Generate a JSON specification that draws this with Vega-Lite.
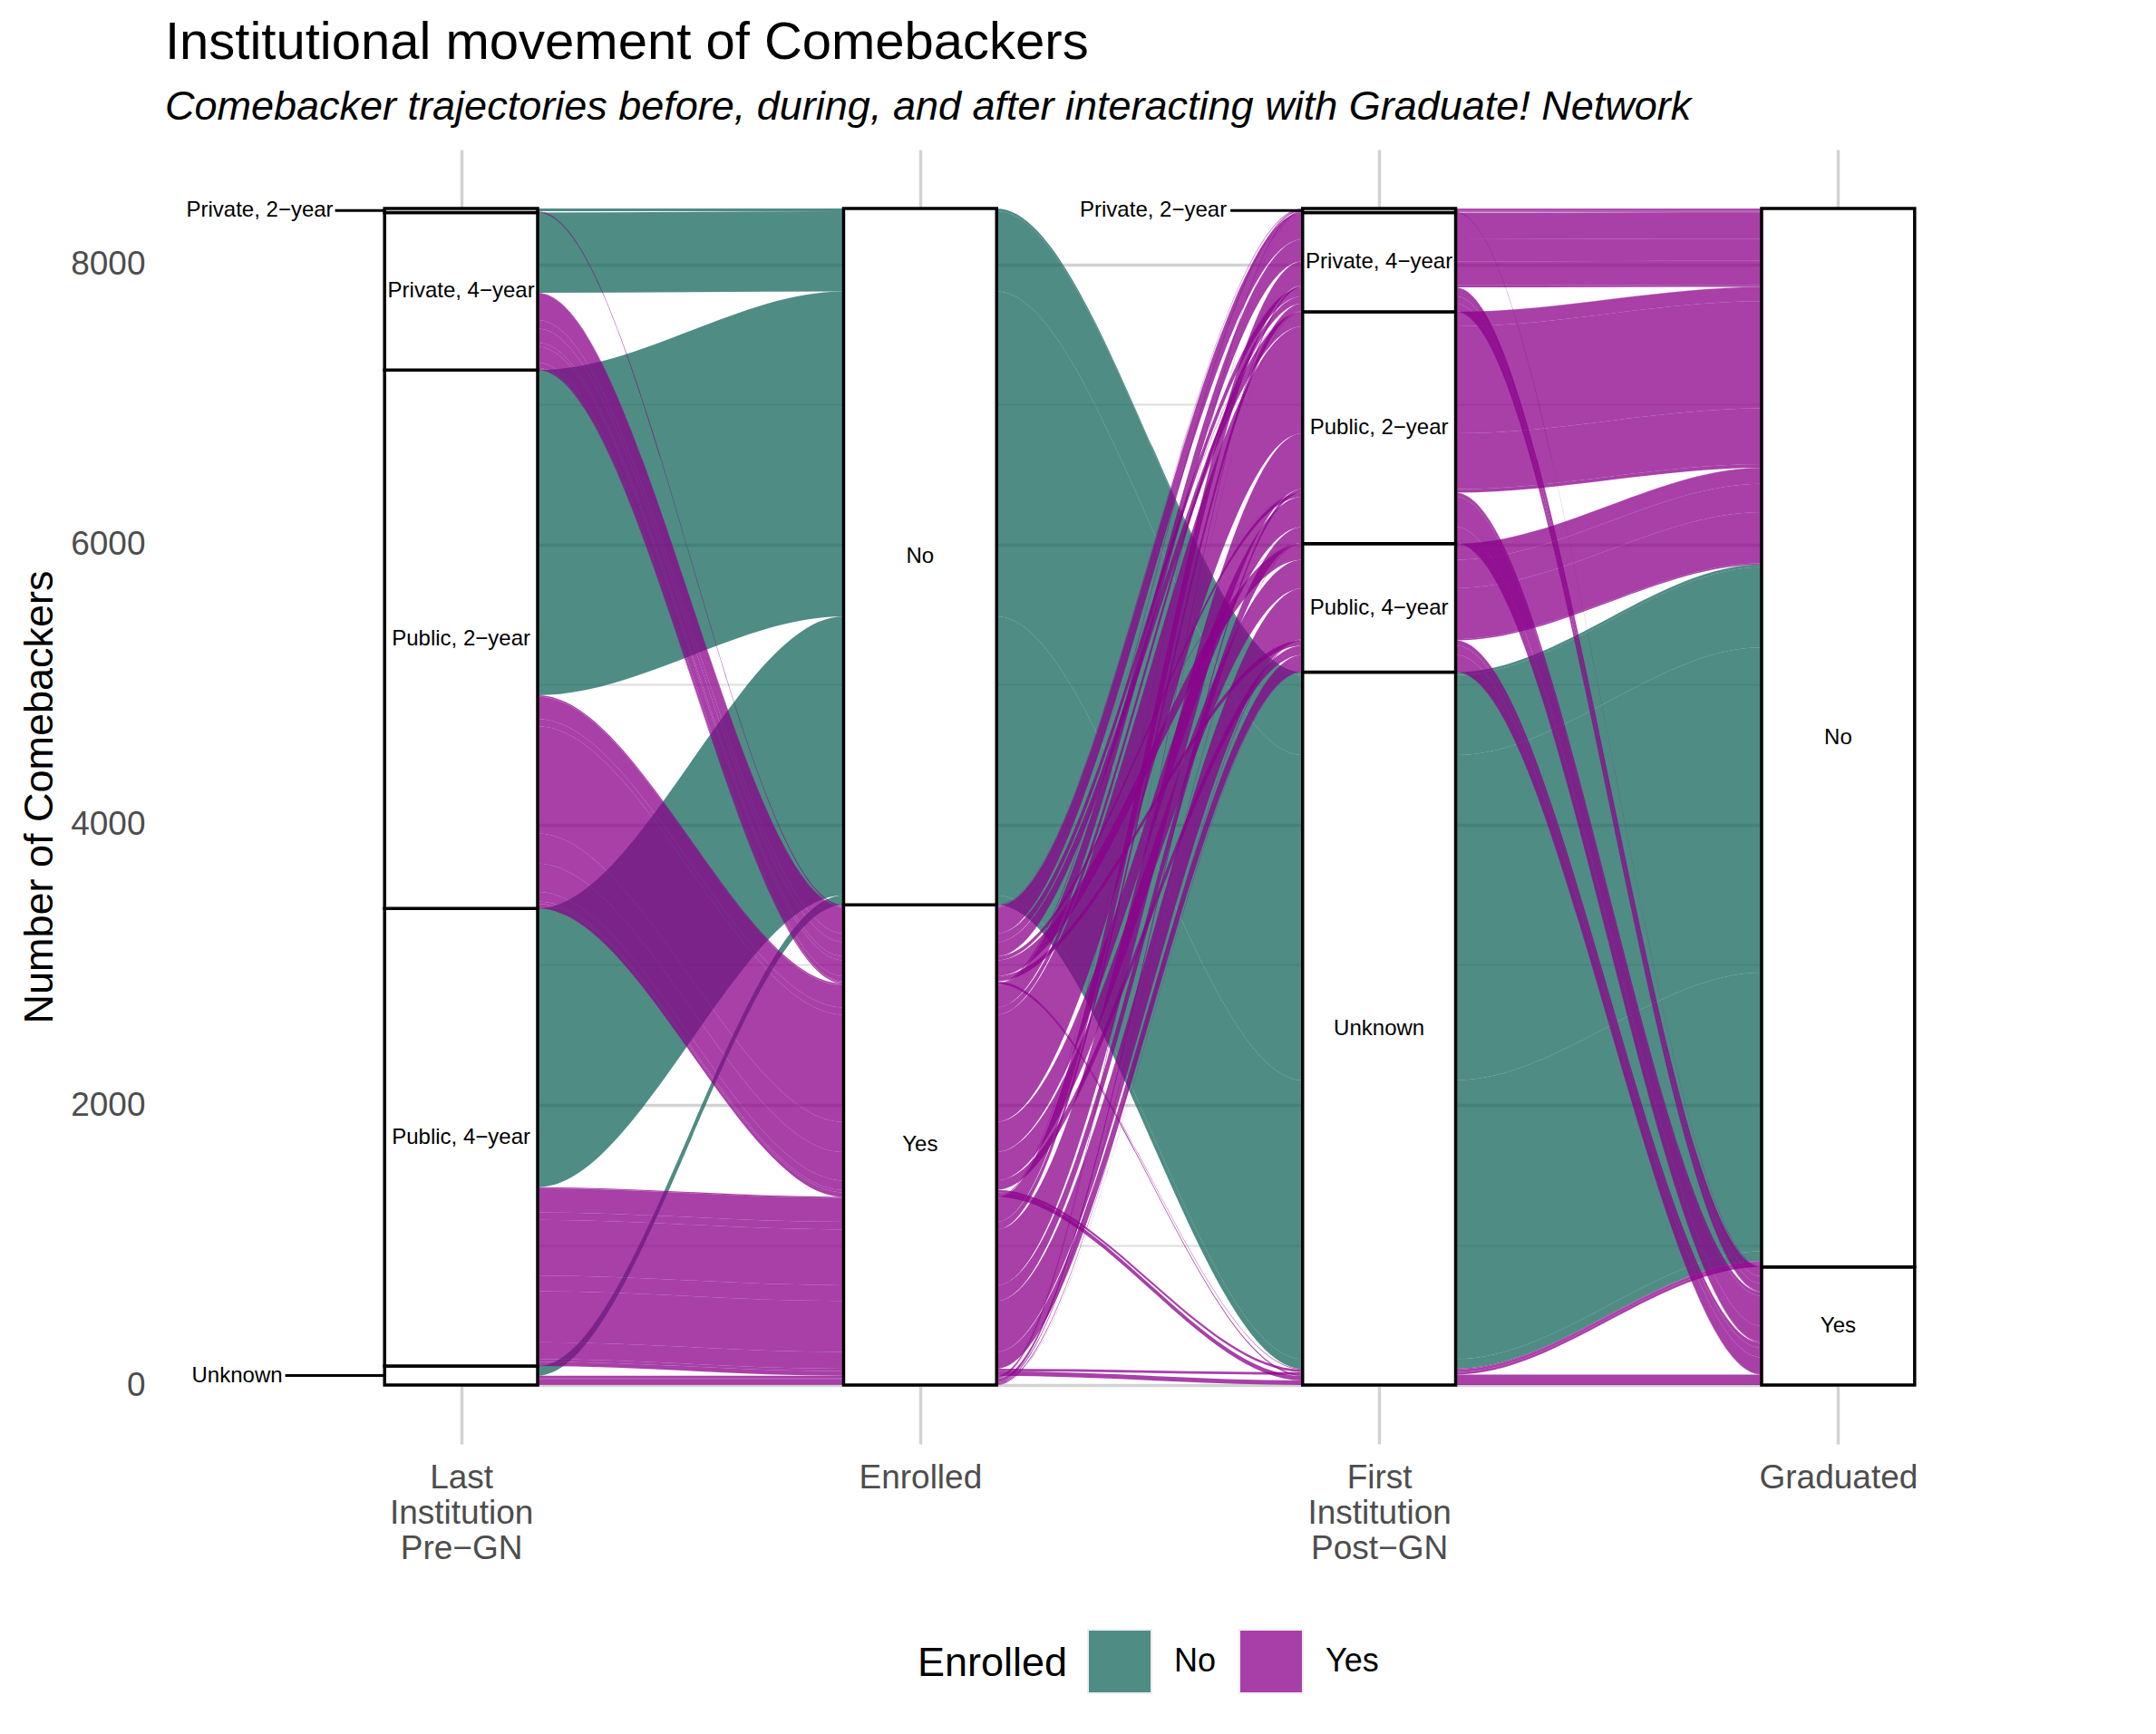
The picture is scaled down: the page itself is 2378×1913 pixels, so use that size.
{
  "$schema": "https://vega.github.io/schema/vega-lite/v6.json",
  "width": 2172,
  "height": 1428,
  "autosize": {"type": "none"},
  "padding": {"left": 182, "top": 165, "right": 24, "bottom": 320},
  "background": "white",
  "config": {
    "view": {"stroke": null},
    "font": "Liberation Sans",
    "axisY": {
      "format": "d",
      "labelExpr": "datum.value % 2000 === 0 ? datum.label : ''",
      "grid": true,
      "gridColor": {"condition": {"test": "datum.value % 2000 === 0", "value": "#d2d2d2"}, "value": "#dedede"},
      "gridWidth": {"condition": {"test": "datum.value % 2000 === 0", "value": 3.4}, "value": 1.8},
      "domain": false,
      "ticks": false,
      "labelFont": "Liberation Sans",
      "labelFontSize": 37,
      "labelColor": "#4d4d4d",
      "labelPadding": 22,
      "titleFont": "Liberation Sans",
      "titleFontSize": 45,
      "titleFontWeight": "normal",
      "titleColor": "black",
      "titleAngle": 270,
      "titleX": -125,
      "titleY": 714,
      "titleBaseline": "alphabetic",
      "titleAlign": "center"
    }
  },
  "title": {
    "text": "Institutional movement of Comebackers",
    "subtitle": "Comebacker trajectories before, during, and after interacting with Graduate! Network",
    "anchor": "start",
    "frame": "group",
    "font": "Liberation Sans",
    "fontSize": 58,
    "fontWeight": "normal",
    "color": "black",
    "subtitleFont": "Liberation Sans",
    "subtitleFontSize": 45,
    "subtitleFontStyle": "italic",
    "subtitleColor": "black",
    "subtitlePadding": 19.5,
    "offset": 24
  },
  "datasets": {
    "alluvia": [
      {"id": "g1", "Enrolled": "No", "cnt": 20, "a": 5212, "b": 5212, "f": 2512, "h": 2512, "l": 1225, "n": 1225, "r": 2125, "s": 2125},
      {"id": "g2", "Enrolled": "No", "cnt": 572, "a": 4212, "b": 4212, "f": 2412, "h": 2412, "l": 1224, "n": 1224, "r": 2124, "s": 2124},
      {"id": "g3", "Enrolled": "No", "cnt": 2321, "a": 3212, "b": 3212, "f": 2312, "h": 2312, "l": 1223, "n": 1223, "r": 2123, "s": 2123},
      {"id": "g4", "Enrolled": "No", "cnt": 1990, "a": 2212, "b": 2212, "f": 2212, "h": 2212, "l": 1222, "n": 1222, "r": 2122, "s": 2122},
      {"id": "g5", "Enrolled": "No", "cnt": 69, "a": 1212, "b": 1212, "f": 2112, "h": 2112, "l": 1221, "n": 1221, "r": 2121, "s": 2121},
      {"id": "p01", "Enrolled": "Yes", "cnt": 2, "a": 5152, "b": 5152, "f": 1552, "h": 1552, "l": 5215, "n": 5215, "r": 2515, "s": 2515},
      {"id": "p02", "Enrolled": "Yes", "cnt": 1, "a": 4151, "b": 4151, "f": 1451, "h": 1451, "l": 5114, "n": 5114, "r": 1514, "s": 1514},
      {"id": "p03", "Enrolled": "Yes", "cnt": 5, "a": 4152, "b": 4152, "f": 1452, "h": 1452, "l": 5214, "n": 5214, "r": 2514, "s": 2514},
      {"id": "p04", "Enrolled": "Yes", "cnt": 2, "a": 3151, "b": 3151, "f": 1351, "h": 1351, "l": 5113, "n": 5113, "r": 1513, "s": 1513},
      {"id": "p05", "Enrolled": "Yes", "cnt": 10, "a": 3152, "b": 3152, "f": 1352, "h": 1352, "l": 5213, "n": 5213, "r": 2513, "s": 2513},
      {"id": "p06", "Enrolled": "Yes", "cnt": 1, "a": 2151, "b": 2151, "f": 1251, "h": 1251, "l": 5112, "n": 5112, "r": 1512, "s": 1512},
      {"id": "p07", "Enrolled": "Yes", "cnt": 7, "a": 2152, "b": 2152, "f": 1252, "h": 1252, "l": 5212, "n": 5212, "r": 2512, "s": 2512},
      {"id": "p08", "Enrolled": "Yes", "cnt": 2, "a": 1152, "b": 1152, "f": 1152, "h": 1152, "l": 5211, "n": 5211, "r": 2511, "s": 2511},
      {"id": "p09", "Enrolled": "Yes", "cnt": 1, "a": 5141, "b": 5141, "f": 1541, "h": 1541, "l": 4115, "n": 4115, "r": 1415, "s": 1415},
      {"id": "p10", "Enrolled": "Yes", "cnt": 2, "a": 5142, "b": 5142, "f": 1542, "h": 1542, "l": 4215, "n": 4215, "r": 2415, "s": 2415},
      {"id": "p11", "Enrolled": "Yes", "cnt": 62, "a": 4141, "b": 4141, "f": 1441, "h": 1441, "l": 4114, "n": 4114, "r": 1414, "s": 1414},
      {"id": "p12", "Enrolled": "Yes", "cnt": 188, "a": 4142, "b": 4142, "f": 1442, "h": 1442, "l": 4214, "n": 4214, "r": 2414, "s": 2414},
      {"id": "p13", "Enrolled": "Yes", "cnt": 52, "a": 3141, "b": 3141, "f": 1341, "h": 1341, "l": 4113, "n": 4113, "r": 1413, "s": 1413},
      {"id": "p14", "Enrolled": "Yes", "cnt": 158, "a": 3142, "b": 3142, "f": 1342, "h": 1342, "l": 4213, "n": 4213, "r": 2413, "s": 2413},
      {"id": "p15", "Enrolled": "Yes", "cnt": 54, "a": 2141, "b": 2141, "f": 1241, "h": 1241, "l": 4112, "n": 4112, "r": 1412, "s": 1412},
      {"id": "p16", "Enrolled": "Yes", "cnt": 171, "a": 2142, "b": 2142, "f": 1242, "h": 1242, "l": 4212, "n": 4212, "r": 2412, "s": 2412},
      {"id": "p17", "Enrolled": "Yes", "cnt": 5, "a": 1141, "b": 1141, "f": 1141, "h": 1141, "l": 4111, "n": 4111, "r": 1411, "s": 1411},
      {"id": "p18", "Enrolled": "Yes", "cnt": 15, "a": 1142, "b": 1142, "f": 1142, "h": 1142, "l": 4211, "n": 4211, "r": 2411, "s": 2411},
      {"id": "p19", "Enrolled": "Yes", "cnt": 1, "a": 5131, "b": 5131, "f": 1531, "h": 1531, "l": 3115, "n": 3115, "r": 1315, "s": 1315},
      {"id": "p20", "Enrolled": "Yes", "cnt": 2, "a": 5132, "b": 5132, "f": 1532, "h": 1532, "l": 3215, "n": 3215, "r": 2315, "s": 2315},
      {"id": "p21", "Enrolled": "Yes", "cnt": 29, "a": 4131, "b": 4131, "f": 1431, "h": 1431, "l": 3114, "n": 3114, "r": 1314, "s": 1314},
      {"id": "p22", "Enrolled": "Yes", "cnt": 101, "a": 4132, "b": 4132, "f": 1432, "h": 1432, "l": 3214, "n": 3214, "r": 2314, "s": 2314},
      {"id": "p23", "Enrolled": "Yes", "cnt": 215, "a": 3131, "b": 3131, "f": 1331, "h": 1331, "l": 3113, "n": 3113, "r": 1313, "s": 1313},
      {"id": "p24", "Enrolled": "Yes", "cnt": 765, "a": 3132, "b": 3132, "f": 1332, "h": 1332, "l": 3213, "n": 3213, "r": 2313, "s": 2313},
      {"id": "p25", "Enrolled": "Yes", "cnt": 112, "a": 2131, "b": 2131, "f": 1231, "h": 1231, "l": 3112, "n": 3112, "r": 1312, "s": 1312},
      {"id": "p26", "Enrolled": "Yes", "cnt": 398, "a": 2132, "b": 2132, "f": 1232, "h": 1232, "l": 3212, "n": 3212, "r": 2312, "s": 2312},
      {"id": "p27", "Enrolled": "Yes", "cnt": 7, "a": 1131, "b": 1131, "f": 1131, "h": 1131, "l": 3111, "n": 3111, "r": 1311, "s": 1311},
      {"id": "p28", "Enrolled": "Yes", "cnt": 25, "a": 1132, "b": 1132, "f": 1132, "h": 1132, "l": 3211, "n": 3211, "r": 2311, "s": 2311},
      {"id": "p29", "Enrolled": "Yes", "cnt": 2, "a": 5122, "b": 5122, "f": 1522, "h": 1522, "l": 2215, "n": 2215, "r": 2215, "s": 2215},
      {"id": "p30", "Enrolled": "Yes", "cnt": 37, "a": 4121, "b": 4121, "f": 1421, "h": 1421, "l": 2114, "n": 2114, "r": 1214, "s": 1214},
      {"id": "p31", "Enrolled": "Yes", "cnt": 113, "a": 4122, "b": 4122, "f": 1422, "h": 1422, "l": 2214, "n": 2214, "r": 2214, "s": 2214},
      {"id": "p32", "Enrolled": "Yes", "cnt": 67, "a": 3121, "b": 3121, "f": 1321, "h": 1321, "l": 2113, "n": 2113, "r": 1213, "s": 1213},
      {"id": "p33", "Enrolled": "Yes", "cnt": 203, "a": 3122, "b": 3122, "f": 1322, "h": 1322, "l": 2213, "n": 2213, "r": 2213, "s": 2213},
      {"id": "p34", "Enrolled": "Yes", "cnt": 120, "a": 2121, "b": 2121, "f": 1221, "h": 1221, "l": 2112, "n": 2112, "r": 1212, "s": 1212},
      {"id": "p35", "Enrolled": "Yes", "cnt": 364, "a": 2122, "b": 2122, "f": 1222, "h": 1222, "l": 2212, "n": 2212, "r": 2212, "s": 2212},
      {"id": "p36", "Enrolled": "Yes", "cnt": 3, "a": 1121, "b": 1121, "f": 1121, "h": 1121, "l": 2111, "n": 2111, "r": 1211, "s": 1211},
      {"id": "p37", "Enrolled": "Yes", "cnt": 9, "a": 1122, "b": 1122, "f": 1122, "h": 1122, "l": 2211, "n": 2211, "r": 2211, "s": 2211},
      {"id": "p38", "Enrolled": "Yes", "cnt": 10, "a": 4111, "b": 4111, "f": 1411, "h": 1411, "l": 1114, "n": 1114, "r": 1114, "s": 1114},
      {"id": "p39", "Enrolled": "Yes", "cnt": 6, "a": 4112, "b": 4112, "f": 1412, "h": 1412, "l": 1214, "n": 1214, "r": 2114, "s": 2114},
      {"id": "p40", "Enrolled": "Yes", "cnt": 32, "a": 3111, "b": 3111, "f": 1311, "h": 1311, "l": 1113, "n": 1113, "r": 1113, "s": 1113},
      {"id": "p41", "Enrolled": "Yes", "cnt": 18, "a": 3112, "b": 3112, "f": 1312, "h": 1312, "l": 1213, "n": 1213, "r": 2113, "s": 2113},
      {"id": "p42", "Enrolled": "Yes", "cnt": 32, "a": 2111, "b": 2111, "f": 1211, "h": 1211, "l": 1112, "n": 1112, "r": 1112, "s": 1112},
      {"id": "p43", "Enrolled": "Yes", "cnt": 18, "a": 2112, "b": 2112, "f": 1212, "h": 1212, "l": 1212, "n": 1212, "r": 2112, "s": 2112},
      {"id": "p44", "Enrolled": "Yes", "cnt": 1, "a": 1111, "b": 1111, "f": 1111, "h": 1111, "l": 1111, "n": 1111, "r": 1111, "s": 1111}
    ],
    "strata": [
      {"lode": "a", "label": "Unknown", "cnt": 136},
      {"lode": "a", "label": "Public, 4−year", "cnt": 3267},
      {"lode": "a", "label": "Public, 2−year", "cnt": 3843},
      {"lode": "a", "label": "Private, 4−year", "cnt": 1124},
      {"lode": "a", "label": "Private, 2−year", "cnt": 30},
      {"lode": "g", "label": "Yes", "cnt": 3428},
      {"lode": "g", "label": "No", "cnt": 4972},
      {"lode": "m", "label": "Unknown", "cnt": 5089},
      {"lode": "m", "label": "Public, 4−year", "cnt": 918},
      {"lode": "m", "label": "Public, 2−year", "cnt": 1655},
      {"lode": "m", "label": "Private, 4−year", "cnt": 708},
      {"lode": "m", "label": "Private, 2−year", "cnt": 30},
      {"lode": "s", "label": "Yes", "cnt": 844},
      {"lode": "s", "label": "No", "cnt": 7556}
    ]
  },
  "encoding": {
    "x": {
      "field": "lode",
      "type": "ordinal",
      "scale": {
        "type": "point",
        "domain": ["a", "b", "c", "d", "e", "f", "g", "h", "i", "j", "k", "l", "m", "n", "o", "p", "q", "r", "s"],
        "range": [326.6, 1845.4],
        "padding": 0
      },
      "axis": {
        "values": ["a", "g", "m", "s"],
        "labelExpr": "datum.value === 'a' ? ['Last', 'Institution', 'Pre−GN'] : datum.value === 'g' ? 'Enrolled' : datum.value === 'm' ? ['First', 'Institution', 'Post−GN'] : datum.value === 's' ? 'Graduated' : ''",
        "title": null,
        "domain": false,
        "ticks": false,
        "grid": true,
        "gridColor": "#d2d2d2",
        "gridWidth": 3.4,
        "labelFont": "Liberation Sans",
        "labelFontSize": 37,
        "labelColor": "#4d4d4d",
        "labelPadding": 19,
        "labelBaseline": "top",
        "labelLineHeight": 39,
        "labelAngle": 0,
        "labelAlign": "center"
      }
    }
  },
  "layer": [
    {
      "data": {"name": "alluvia"},
      "transform": [
        {"fold": ["a", "b", "f", "h", "l", "n", "r", "s"], "as": ["lode", "rank"]},
        {"stack": "cnt", "groupby": ["lode"], "sort": [{"field": "rank", "order": "ascending"}], "as": ["lo", "hi"]}
      ],
      "mark": {"type": "area", "interpolate": "monotone", "opacity": 0.75},
      "encoding": {
        "y": {
          "field": "lo",
          "type": "quantitative",
          "title": "Number of Comebackers",
          "scale": {"domain": [-420, 8820], "nice": false, "zero": false},
          "axis": {"values": [0, 1000, 2000, 3000, 4000, 5000, 6000, 7000, 8000]}
        },
        "y2": {"field": "hi"},
        "detail": {"field": "id"},
        "color": {
          "field": "Enrolled",
          "type": "nominal",
          "scale": {"domain": ["No", "Yes"], "range": ["#14665b", "#8b008b"]},
          "legend": {
            "orient": "none",
            "legendX": 830,
            "legendY": 1632,
            "direction": "horizontal",
            "title": "Enrolled",
            "titleOrient": "left",
            "titleFont": "Liberation Sans",
            "titleFontSize": 45,
            "titleFontWeight": "normal",
            "titleColor": "black",
            "titlePadding": 21,
            "titleBaseline": "middle",
            "labelFont": "Liberation Sans",
            "labelFontSize": 36,
            "labelColor": "black",
            "labelOffset": 24,
            "columnPadding": 21,
            "symbolType": "square",
            "symbolSize": 4900,
            "symbolStrokeColor": "#e5e9e9",
            "symbolStrokeWidth": 2,
            "symbolOpacity": 0.75,
            "padding": 0
          }
        }
      }
    },
    {
      "data": {"name": "strata"},
      "transform": [
        {"stack": "cnt", "groupby": ["lode"], "sort": [{"field": "label", "order": "descending"}], "as": ["lo", "hi"]}
      ],
      "mark": {"type": "bar", "width": 168.8, "fill": "white", "stroke": "black", "strokeWidth": 3.5},
      "encoding": {
        "y": {"field": "lo", "type": "quantitative", "title": "Number of Comebackers", "scale": {"domain": [-420, 8820], "nice": false, "zero": false}, "axis": {"values": [0, 1000, 2000, 3000, 4000, 5000, 6000, 7000, 8000]}},
        "y2": {"field": "hi"}
      }
    },
    {
      "data": {"name": "strata"},
      "transform": [
        {"stack": "cnt", "groupby": ["lode"], "sort": [{"field": "label", "order": "descending"}], "as": ["lo", "hi"]},
        {"filter": "datum.cnt >= 200"},
        {"fold": ["lo", "hi"], "as": ["edge", "yv"]}
      ],
      "mark": {"type": "text", "font": "Liberation Sans", "fontSize": 24, "fill": "black", "baseline": "middle", "align": "center"},
      "encoding": {
        "y": {"field": "yv", "aggregate": "mean", "type": "quantitative", "title": "Number of Comebackers", "scale": {"domain": [-420, 8820], "nice": false, "zero": false}, "axis": {"values": [0, 1000, 2000, 3000, 4000, 5000, 6000, 7000, 8000]}},
        "text": {"field": "label", "type": "nominal"}
      }
    },
    {
      "data": {"name": "strata"},
      "transform": [
        {"stack": "cnt", "groupby": ["lode"], "sort": [{"field": "label", "order": "descending"}], "as": ["lo", "hi"]},
        {"filter": "datum.lode === 'a' && datum.label === 'Private, 2−year'"},
        {"fold": ["lo", "hi"], "as": ["edge", "yv"]}
      ],
      "layer": [
        {
          "mark": {"type": "text", "font": "Liberation Sans", "fontSize": 24, "fill": "black", "baseline": "middle", "align": "right", "dx": -141},
          "encoding": {
            "y": {"field": "yv", "aggregate": "mean", "type": "quantitative", "title": "Number of Comebackers", "scale": {"domain": [-420, 8820], "nice": false, "zero": false}, "axis": {"values": [0, 1000, 2000, 3000, 4000, 5000, 6000, 7000, 8000]}},
            "text": {"field": "label", "type": "nominal"}
          }
        },
        {
          "mark": {"type": "rule", "xOffset": -139, "x2Offset": -84, "stroke": "black", "strokeWidth": 3},
          "encoding": {
            "x2": {"field": "lode"},
            "y": {"field": "yv", "aggregate": "mean", "type": "quantitative", "title": "Number of Comebackers", "scale": {"domain": [-420, 8820], "nice": false, "zero": false}, "axis": {"values": [0, 1000, 2000, 3000, 4000, 5000, 6000, 7000, 8000]}}
          }
        }
      ]
    },
    {
      "data": {"name": "strata"},
      "transform": [
        {"stack": "cnt", "groupby": ["lode"], "sort": [{"field": "label", "order": "descending"}], "as": ["lo", "hi"]},
        {"filter": "datum.lode === 'a' && datum.label === 'Unknown'"},
        {"fold": ["lo", "hi"], "as": ["edge", "yv"]}
      ],
      "layer": [
        {
          "mark": {"type": "text", "font": "Liberation Sans", "fontSize": 24, "fill": "black", "baseline": "middle", "align": "right", "dx": -197},
          "encoding": {
            "y": {"field": "yv", "aggregate": "mean", "type": "quantitative", "title": "Number of Comebackers", "scale": {"domain": [-420, 8820], "nice": false, "zero": false}, "axis": {"values": [0, 1000, 2000, 3000, 4000, 5000, 6000, 7000, 8000]}},
            "text": {"field": "label", "type": "nominal"}
          }
        },
        {
          "mark": {"type": "rule", "xOffset": -194, "x2Offset": -84, "stroke": "black", "strokeWidth": 3},
          "encoding": {
            "x2": {"field": "lode"},
            "y": {"field": "yv", "aggregate": "mean", "type": "quantitative", "title": "Number of Comebackers", "scale": {"domain": [-420, 8820], "nice": false, "zero": false}, "axis": {"values": [0, 1000, 2000, 3000, 4000, 5000, 6000, 7000, 8000]}}
          }
        }
      ]
    },
    {
      "data": {"name": "strata"},
      "transform": [
        {"stack": "cnt", "groupby": ["lode"], "sort": [{"field": "label", "order": "descending"}], "as": ["lo", "hi"]},
        {"filter": "datum.lode === 'm' && datum.label === 'Private, 2−year'"},
        {"fold": ["lo", "hi"], "as": ["edge", "yv"]}
      ],
      "layer": [
        {
          "mark": {"type": "text", "font": "Liberation Sans", "fontSize": 24, "fill": "black", "baseline": "middle", "align": "right", "dx": -168},
          "encoding": {
            "y": {"field": "yv", "aggregate": "mean", "type": "quantitative", "title": "Number of Comebackers", "scale": {"domain": [-420, 8820], "nice": false, "zero": false}, "axis": {"values": [0, 1000, 2000, 3000, 4000, 5000, 6000, 7000, 8000]}},
            "text": {"field": "label", "type": "nominal"}
          }
        },
        {
          "mark": {"type": "rule", "xOffset": -164, "x2Offset": -84, "stroke": "black", "strokeWidth": 3},
          "encoding": {
            "x2": {"field": "lode"},
            "y": {"field": "yv", "aggregate": "mean", "type": "quantitative", "title": "Number of Comebackers", "scale": {"domain": [-420, 8820], "nice": false, "zero": false}, "axis": {"values": [0, 1000, 2000, 3000, 4000, 5000, 6000, 7000, 8000]}}
          }
        }
      ]
    }
  ]
}
